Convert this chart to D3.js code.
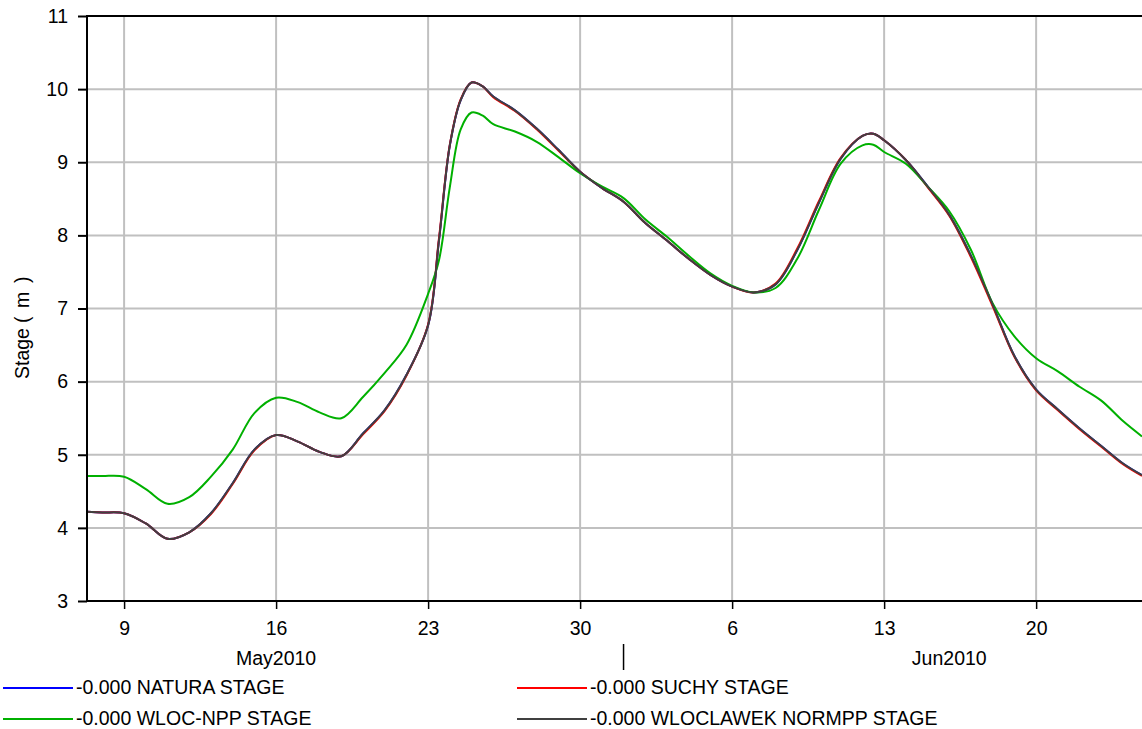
<!DOCTYPE html>
<html><head><meta charset="utf-8">
<script src="https://cdn.jsdelivr.net/npm/d3@7"></script>
<style>
html,body{margin:0;padding:0;background:#fff;}
svg{display:block;font-family:"Liberation Sans",Arial,sans-serif;}
</style></head>
<body>
<svg id="chart" width="1142" height="729"></svg>
<script>
// ---- data ----
const times = ["2010-05-07T07:00","2010-05-08T00:00","2010-05-09T00:00","2010-05-10T00:00","2010-05-11T00:00","2010-05-12T00:00","2010-05-13T00:00","2010-05-14T00:00","2010-05-15T00:00","2010-05-16T00:00","2010-05-17T00:00","2010-05-18T00:00","2010-05-19T00:00","2010-05-20T00:00","2010-05-21T00:00","2010-05-22T00:00","2010-05-23T00:00","2010-05-23T12:00","2010-05-24T00:00","2010-05-24T12:00","2010-05-25T00:00","2010-05-25T12:00","2010-05-26T00:00","2010-05-27T00:00","2010-05-28T00:00","2010-05-29T00:00","2010-05-30T00:00","2010-05-31T00:00","2010-06-01T00:00","2010-06-02T00:00","2010-06-03T00:00","2010-06-04T00:00","2010-06-05T00:00","2010-06-06T00:00","2010-06-07T00:00","2010-06-08T00:00","2010-06-09T00:00","2010-06-10T00:00","2010-06-11T00:00","2010-06-12T00:00","2010-06-12T12:00","2010-06-13T00:00","2010-06-14T00:00","2010-06-15T00:00","2010-06-16T00:00","2010-06-17T00:00","2010-06-18T00:00","2010-06-19T00:00","2010-06-20T00:00","2010-06-21T00:00","2010-06-22T00:00","2010-06-23T00:00","2010-06-24T00:00","2010-06-24T21:00"];

const natura   = [4.22,4.21,4.20,4.06,3.85,3.94,4.20,4.61,5.07,5.27,5.18,5.04,4.98,5.29,5.61,6.09,6.77,7.93,9.23,9.85,10.09,10.04,9.90,9.71,9.46,9.17,8.87,8.65,8.46,8.17,7.93,7.68,7.46,7.30,7.22,7.33,7.80,8.45,9.05,9.36,9.39,9.30,9.03,8.67,8.28,7.72,7.05,6.35,5.89,5.62,5.36,5.12,4.88,4.72];
const suchy    = [4.22,4.21,4.20,4.06,3.85,3.94,4.19,4.60,5.06,5.27,5.18,5.04,4.98,5.28,5.60,6.08,6.78,7.96,9.24,9.86,10.09,10.04,9.89,9.70,9.45,9.16,8.87,8.65,8.46,8.17,7.93,7.68,7.46,7.30,7.22,7.34,7.82,8.47,9.06,9.36,9.39,9.30,9.03,8.66,8.27,7.70,7.03,6.34,5.88,5.61,5.35,5.11,4.87,4.71];
const wlocNpp  = [4.71,4.71,4.70,4.53,4.33,4.42,4.70,5.07,5.57,5.78,5.72,5.58,5.50,5.79,6.12,6.50,7.20,7.66,8.66,9.45,9.68,9.64,9.52,9.42,9.28,9.07,8.85,8.67,8.51,8.22,7.98,7.72,7.48,7.31,7.22,7.28,7.68,8.35,8.98,9.23,9.24,9.14,8.98,8.67,8.33,7.80,7.07,6.62,6.32,6.14,5.93,5.74,5.46,5.25];
const normpp   = [4.22,4.21,4.20,4.06,3.85,3.94,4.20,4.61,5.07,5.27,5.18,5.04,4.98,5.29,5.61,6.09,6.77,7.93,9.23,9.85,10.09,10.04,9.90,9.71,9.46,9.17,8.87,8.65,8.46,8.17,7.93,7.68,7.46,7.30,7.22,7.33,7.80,8.45,9.05,9.36,9.39,9.30,9.03,8.67,8.28,7.72,7.05,6.35,5.89,5.62,5.36,5.12,4.88,4.72];

const seriesNames  = ["-0.000 NATURA STAGE","-0.000 SUCHY STAGE","-0.000 WLOC-NPP STAGE","-0.000 WLOCLAWEK NORMPP STAGE"];
const seriesColors = ["#0000ff","#ff0000","#00b000","#404040"];
const yTicks = [3,4,5,6,7,8,9,10,11];
const xTickDates = ["2010-05-09","2010-05-16","2010-05-23","2010-05-30","2010-06-06","2010-06-13","2010-06-20"];
const monthLabels = ["May2010","Jun2010"];
const monthCenters = ["2010-05-16","2010-06-16"];
const monthBoundary = "2010-06-01";
const yLabelParts = ["Stage ", "(", "m", ")"];

// ---- layout ----
const parse = d3.isoParse;
const svg = d3.select("#chart");
const L = 87, R = 1142, T = 16, B = 601;
const x = d3.scaleTime().domain([parse("2010-05-07T07:00"), parse("2010-06-24T21:00")]).range([L, R]);
const y = d3.scaleLinear().domain([3, 11]).range([B, T]);
const FS = 19.5;

// grid
svg.append("g").selectAll("line").data(xTickDates).join("line")
  .attr("x1", d => x(parse(d))).attr("x2", d => x(parse(d)))
  .attr("y1", T).attr("y2", B).attr("stroke", "#c0c0c0").attr("stroke-width", 2);
svg.append("g").selectAll("line").data(yTicks.slice(1, -1)).join("line")
  .attr("x1", L).attr("x2", R).attr("y1", d => y(d)).attr("y2", d => y(d))
  .attr("stroke", "#c0c0c0").attr("stroke-width", 2);

// lines
svg.append("clipPath").attr("id", "clip").append("rect").attr("x", L).attr("y", T).attr("width", R - L).attr("height", B - T);
const allSeries = [natura, suchy, wlocNpp, normpp];
const line = d3.line().x((d, i) => x(parse(times[i]))).y(d => y(d)).curve(d3.curveCatmullRom.alpha(0.5));
svg.append("g").attr("clip-path", "url(#clip)").selectAll("path").data(allSeries).join("path")
  .attr("d", d => line(d)).attr("fill", "none")
  .attr("stroke", (d, i) => seriesColors[i]).attr("stroke-width", 2);

// axes frame
const yAxis = d3.axisLeft(y).tickValues(yTicks).tickSize(9).tickPadding(10).tickFormat(d3.format("d"));
const gy = svg.append("g").attr("transform", `translate(${L},0)`).call(yAxis);
gy.select(".domain").remove();
gy.selectAll(".tick line").attr("stroke", "#000").attr("stroke-width", 2);
gy.selectAll(".tick text").attr("font-size", FS).attr("fill", "#000").attr("font-family", "Liberation Sans, Arial, sans-serif");

const xAxis = d3.axisBottom(x).tickValues(xTickDates.map(parse)).tickSize(8).tickPadding(12).tickFormat(d3.timeFormat("%-d"));
const gx = svg.append("g").attr("transform", `translate(0,${B})`).call(xAxis);
gx.select(".domain").remove();
gx.selectAll(".tick line").attr("stroke", "#000").attr("stroke-width", 1.5);
gx.selectAll(".tick text").attr("font-size", FS).attr("fill", "#000").attr("font-family", "Liberation Sans, Arial, sans-serif");

svg.append("line").attr("x1", L).attr("x2", L).attr("y1", T - 1).attr("y2", B + 1).attr("stroke", "#000").attr("stroke-width", 2);
svg.append("line").attr("x1", L - 1).attr("x2", R).attr("y1", B).attr("y2", B).attr("stroke", "#000").attr("stroke-width", 2);
svg.append("line").attr("x1", L - 1).attr("x2", R).attr("y1", T).attr("y2", T).attr("stroke", "#000").attr("stroke-width", 2);

// month labels
svg.append("g").selectAll("text").data(monthLabels).join("text")
  .attr("x", (d, i) => x(parse(monthCenters[i]))).attr("y", 665)
  .attr("text-anchor", "middle").attr("font-size", FS).text(d => d);
svg.append("line").attr("x1", x(parse(monthBoundary))).attr("x2", x(parse(monthBoundary)))
  .attr("y1", 644).attr("y2", 670).attr("stroke", "#000").attr("stroke-width", 1.5);

// y label (rotated), with the original's wide spacing
const yl = svg.append("text").attr("transform", "translate(29,0) rotate(-90)").attr("font-size", 19.5);
const ylPos = [-379, -323, -308, -283];
yl.selectAll("tspan").data(yLabelParts).join("tspan")
  .attr("x", (d, i) => ylPos[i]).attr("y", 0).text(d => d);

// legend
const legPos = [[3, 688], [517, 688], [3, 719], [517, 719]];
const lg = svg.append("g").selectAll("g").data(seriesNames).join("g")
  .attr("transform", (d, i) => `translate(${legPos[i][0]},${legPos[i][1]})`);
lg.append("line").attr("x1", 0).attr("x2", 70).attr("y1", 0).attr("y2", 0)
  .attr("stroke", (d, i) => seriesColors[i]).attr("stroke-width", 2);
lg.append("text").attr("x", 73).attr("y", 5.5).attr("font-size", FS).text(d => d);
</script>
</body></html>
